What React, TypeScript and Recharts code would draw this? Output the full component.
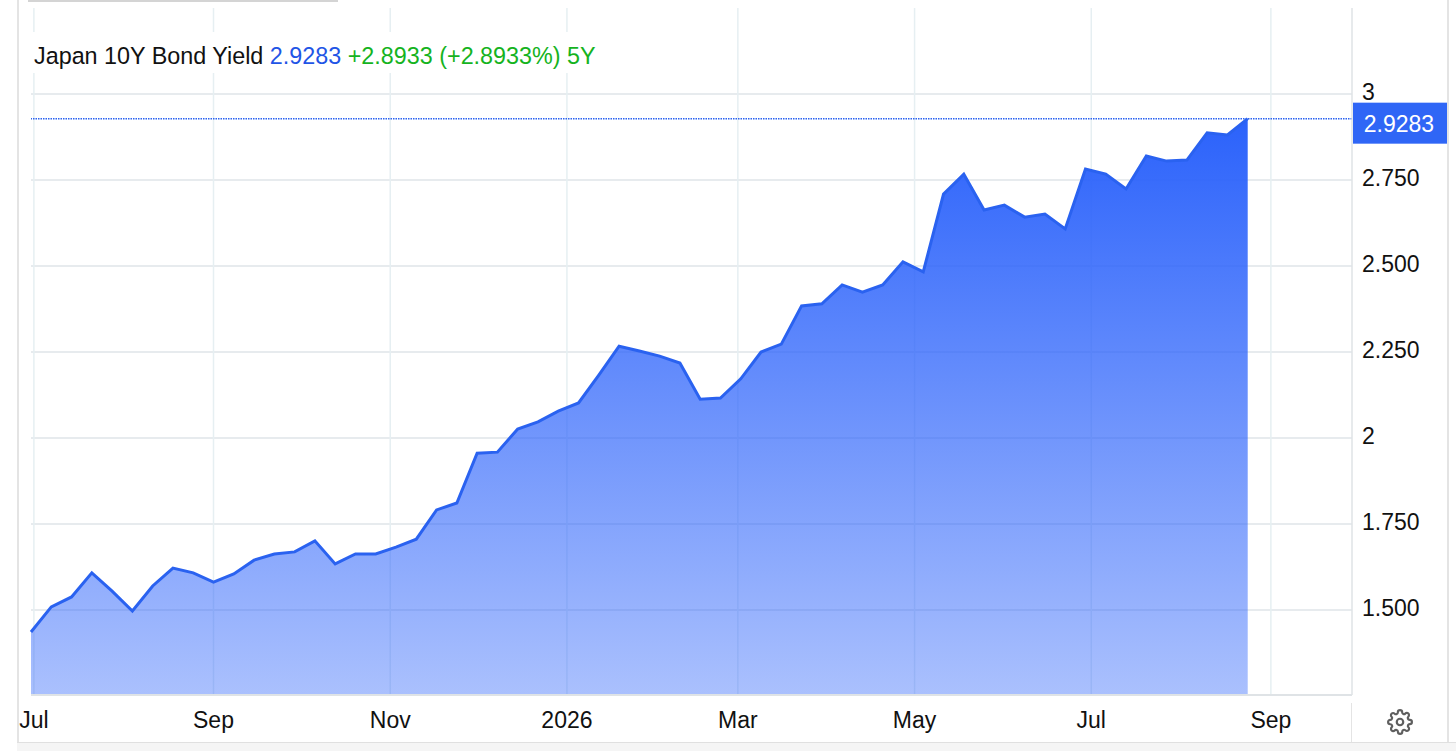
import React from "react";
import { AreaChart, Area, XAxis, YAxis, CartesianGrid, ReferenceLine } from "recharts";

const dates = [
  "2025-06-30","2025-07-07","2025-07-14","2025-07-21","2025-07-28","2025-08-04","2025-08-11","2025-08-18","2025-08-25",
  "2025-09-01","2025-09-08","2025-09-15","2025-09-22","2025-09-29","2025-10-06","2025-10-13","2025-10-20","2025-10-27",
  "2025-11-03","2025-11-10","2025-11-17","2025-11-24","2025-12-01","2025-12-08","2025-12-15","2025-12-22","2025-12-29",
  "2026-01-05","2026-01-12","2026-01-19","2026-01-26","2026-02-02","2026-02-09","2026-02-16","2026-02-23","2026-03-02",
  "2026-03-09","2026-03-16","2026-03-23","2026-03-30","2026-04-06","2026-04-13","2026-04-20","2026-04-27","2026-05-04",
  "2026-05-11","2026-05-18","2026-05-25","2026-06-01","2026-06-08","2026-06-15","2026-06-22","2026-06-29","2026-07-06",
  "2026-07-13","2026-07-20","2026-07-27","2026-08-03","2026-08-10","2026-08-17","2026-08-24",
];
const yields = [
  1.436,1.509,1.538,1.608,1.555,1.497,1.570,1.622,1.608,
  1.581,1.605,1.645,1.663,1.669,1.701,1.634,1.663,1.663,
  1.683,1.706,1.791,1.811,1.956,1.959,2.026,2.047,2.078,
  2.102,2.183,2.267,2.253,2.238,2.218,2.113,2.116,2.172,
  2.250,2.273,2.384,2.390,2.445,2.424,2.445,2.512,2.483,
  2.709,2.767,2.663,2.677,2.642,2.651,2.608,2.782,2.767,
  2.724,2.820,2.805,2.808,2.887,2.881,2.9283,
];
const xTickDates = ["2025-07-01","2025-09-01","2025-11-01","2026-01-01","2026-03-01","2026-05-01","2026-07-01","2026-09-01"];
const xTickLabels = ["Jul","Sep","Nov","2026","Mar","May","Jul","Sep"];
const yTicks = [1.5,1.75,2,2.25,2.5,2.75,3];
const yTickLabels = ["1.500","1.750","2","2.250","2.500","2.750","3"];
const lastValue = "2.9283";
const xDomainEnd = "2026-09-29";

const ms = (d: string) => Date.parse(d + "T00:00:00Z");
const rows = dates.map((d, i) => ({ t: ms(d), y: yields[i] }));
const xTicks = xTickDates.map(ms);
const FONT = '"Liberation Sans", Arial, sans-serif';
const FS = 23;

const PriceTag = (props: any) => {
  const { viewBox } = props;
  const right = viewBox.x + viewBox.width;
  const cy = viewBox.y;
  return (
    <g>
      <rect x={right + 1} y={cy - 16} width={94} height={41} fill="#2f66f6" />
      <text x={right + 47} y={cy + 13} textAnchor="middle" fill="#fff" fontSize={FS} fontFamily={FONT}>{lastValue}</text>
    </g>
  );
};

const XTick = (props: any) => {
  const { x, payload } = props;
  return (
    <text x={x} y={728} textAnchor="middle" fill="#111" fontSize={FS} fontFamily={FONT}>
      {xTickLabels[xTicks.indexOf(payload.value)]}
    </text>
  );
};

const YTick = (props: any) => {
  const { y, payload } = props;
  return (
    <text x={1362} y={y + 6} fill="#111" fontSize={FS} fontFamily={FONT}>
      {yTickLabels[yTicks.indexOf(payload.value)]}
    </text>
  );
};

export default function App() {
  return (
    <div style={{ position: "fixed", left: 0, top: 0, width: 1456, height: 751, background: "#fff", overflow: "hidden" }}>
      <div style={{ position: "absolute", left: 0, top: 0 }}>
        <AreaChart width={1456} height={751} data={rows} margin={{ left: 31, top: 8, right: 0, bottom: 0 }}>
          <defs>
            <linearGradient id="fillY" x1="0" y1="0" x2="0" y2="1">
              <stop offset="0%" stopColor="#2b62fb" stopOpacity={1} />
              <stop offset="100%" stopColor="#2b62fb" stopOpacity={0.4} />
            </linearGradient>
          </defs>
          <CartesianGrid horizontal={true} vertical={false} syncWithTicks stroke="#dfe5e8" strokeWidth={1.5} />
          <CartesianGrid horizontal={false} vertical={true} syncWithTicks stroke="#e6eff2" strokeWidth={1.5} />
          <XAxis dataKey="t" type="number" scale="time" domain={[ms(dates[0]), ms(xDomainEnd)]} ticks={xTicks} interval={0}
            tick={<XTick />} tickLine={false} axisLine={{ stroke: "#dfe3e6", strokeWidth: 2 }} height={56} />
          <YAxis orientation="right" width={104} domain={[1.253, 3.25]} ticks={yTicks} interval={0} allowDataOverflow
            tick={<YTick />} tickLine={false} axisLine={{ stroke: "#dfe3e6", strokeWidth: 1.5 }} />
          <Area dataKey="y" type="linear" stroke="#2a62f0" strokeWidth={3} fill="url(#fillY)" fillOpacity={1}
            dot={false} activeDot={false} isAnimationActive={false} />
          <ReferenceLine y={yields[yields.length - 1]} stroke="#2a62f0" strokeWidth={1.5} strokeDasharray="1.5 1" label={<PriceTag />}
            style={{ stroke: "#2a62f0" }} />
        </AreaChart>
      </div>

      {/* title with white backing */}
      <div style={{ position: "absolute", left: 32, top: 32, height: 41, width: 570, background: "#fff" }} />
      <div style={{ position: "absolute", left: 34, top: 43, fontFamily: FONT, fontSize: 23.35, lineHeight: "26px", whiteSpace: "nowrap", color: "#111" }}>
        Japan 10Y Bond Yield <span style={{ color: "#1f55e6" }}>2.9283</span>{" "}
        <span style={{ color: "#15b31e" }}>+2.8933 (+2.8933%) 5Y</span>
      </div>

      {/* widget frame */}
      <div style={{ position: "absolute", left: 28, top: 0, width: 310, height: 2, background: "#d4d4d4" }} />
      <div style={{ position: "absolute", left: 17, top: 0, width: 1.5, height: 751, background: "#e4e4e4" }} />
      <div style={{ position: "absolute", left: 1447, top: 0, width: 1.5, height: 751, background: "#e4e4e4" }} />
      <div style={{ position: "absolute", left: 1350.5, top: 703, width: 1.5, height: 39, background: "#e4e4e4" }} />
      <div style={{ position: "absolute", left: 17, top: 742, width: 1439, height: 9, background: "#f5f5f5", borderTop: "1.5px solid #e0e0e0" }} />
      <svg style={{ position: "absolute", left: 1387, top: 709 }} width={26} height={26} viewBox="0 0 24 24" fill="none" stroke="#5f5f5f" strokeWidth={2}>
        <circle cx={12} cy={12} r={3} />
        <path d="M19.4 15a1.65 1.65 0 0 0 .33 1.82l.06.06a2 2 0 0 1 0 2.83 2 2 0 0 1-2.83 0l-.06-.06a1.65 1.65 0 0 0-1.82-.33 1.65 1.65 0 0 0-1 1.51V21a2 2 0 0 1-2 2 2 2 0 0 1-2-2v-.09A1.65 1.65 0 0 0 9 19.4a1.65 1.65 0 0 0-1.82.33l-.06.06a2 2 0 0 1-2.83 0 2 2 0 0 1 0-2.83l.06-.06a1.65 1.65 0 0 0 .33-1.82 1.65 1.65 0 0 0-1.51-1H3a2 2 0 0 1-2-2 2 2 0 0 1 2-2h.09A1.65 1.65 0 0 0 4.6 9a1.65 1.65 0 0 0-.33-1.82l-.06-.06a2 2 0 0 1 0-2.83 2 2 0 0 1 2.83 0l.06.06a1.65 1.65 0 0 0 1.82.33H9a1.65 1.65 0 0 0 1-1.51V3a2 2 0 0 1 2-2 2 2 0 0 1 2 2v.09a1.65 1.65 0 0 0 1 1.51 1.65 1.65 0 0 0 1.82-.33l.06-.06a2 2 0 0 1 2.83 0 2 2 0 0 1 0 2.83l-.06.06a1.65 1.65 0 0 0-.33 1.82V9a1.65 1.65 0 0 0 1.51 1H21a2 2 0 0 1 2 2 2 2 0 0 1-2 2h-.09a1.65 1.65 0 0 0-1.51 1z" />
      </svg>
    </div>
  );
}
